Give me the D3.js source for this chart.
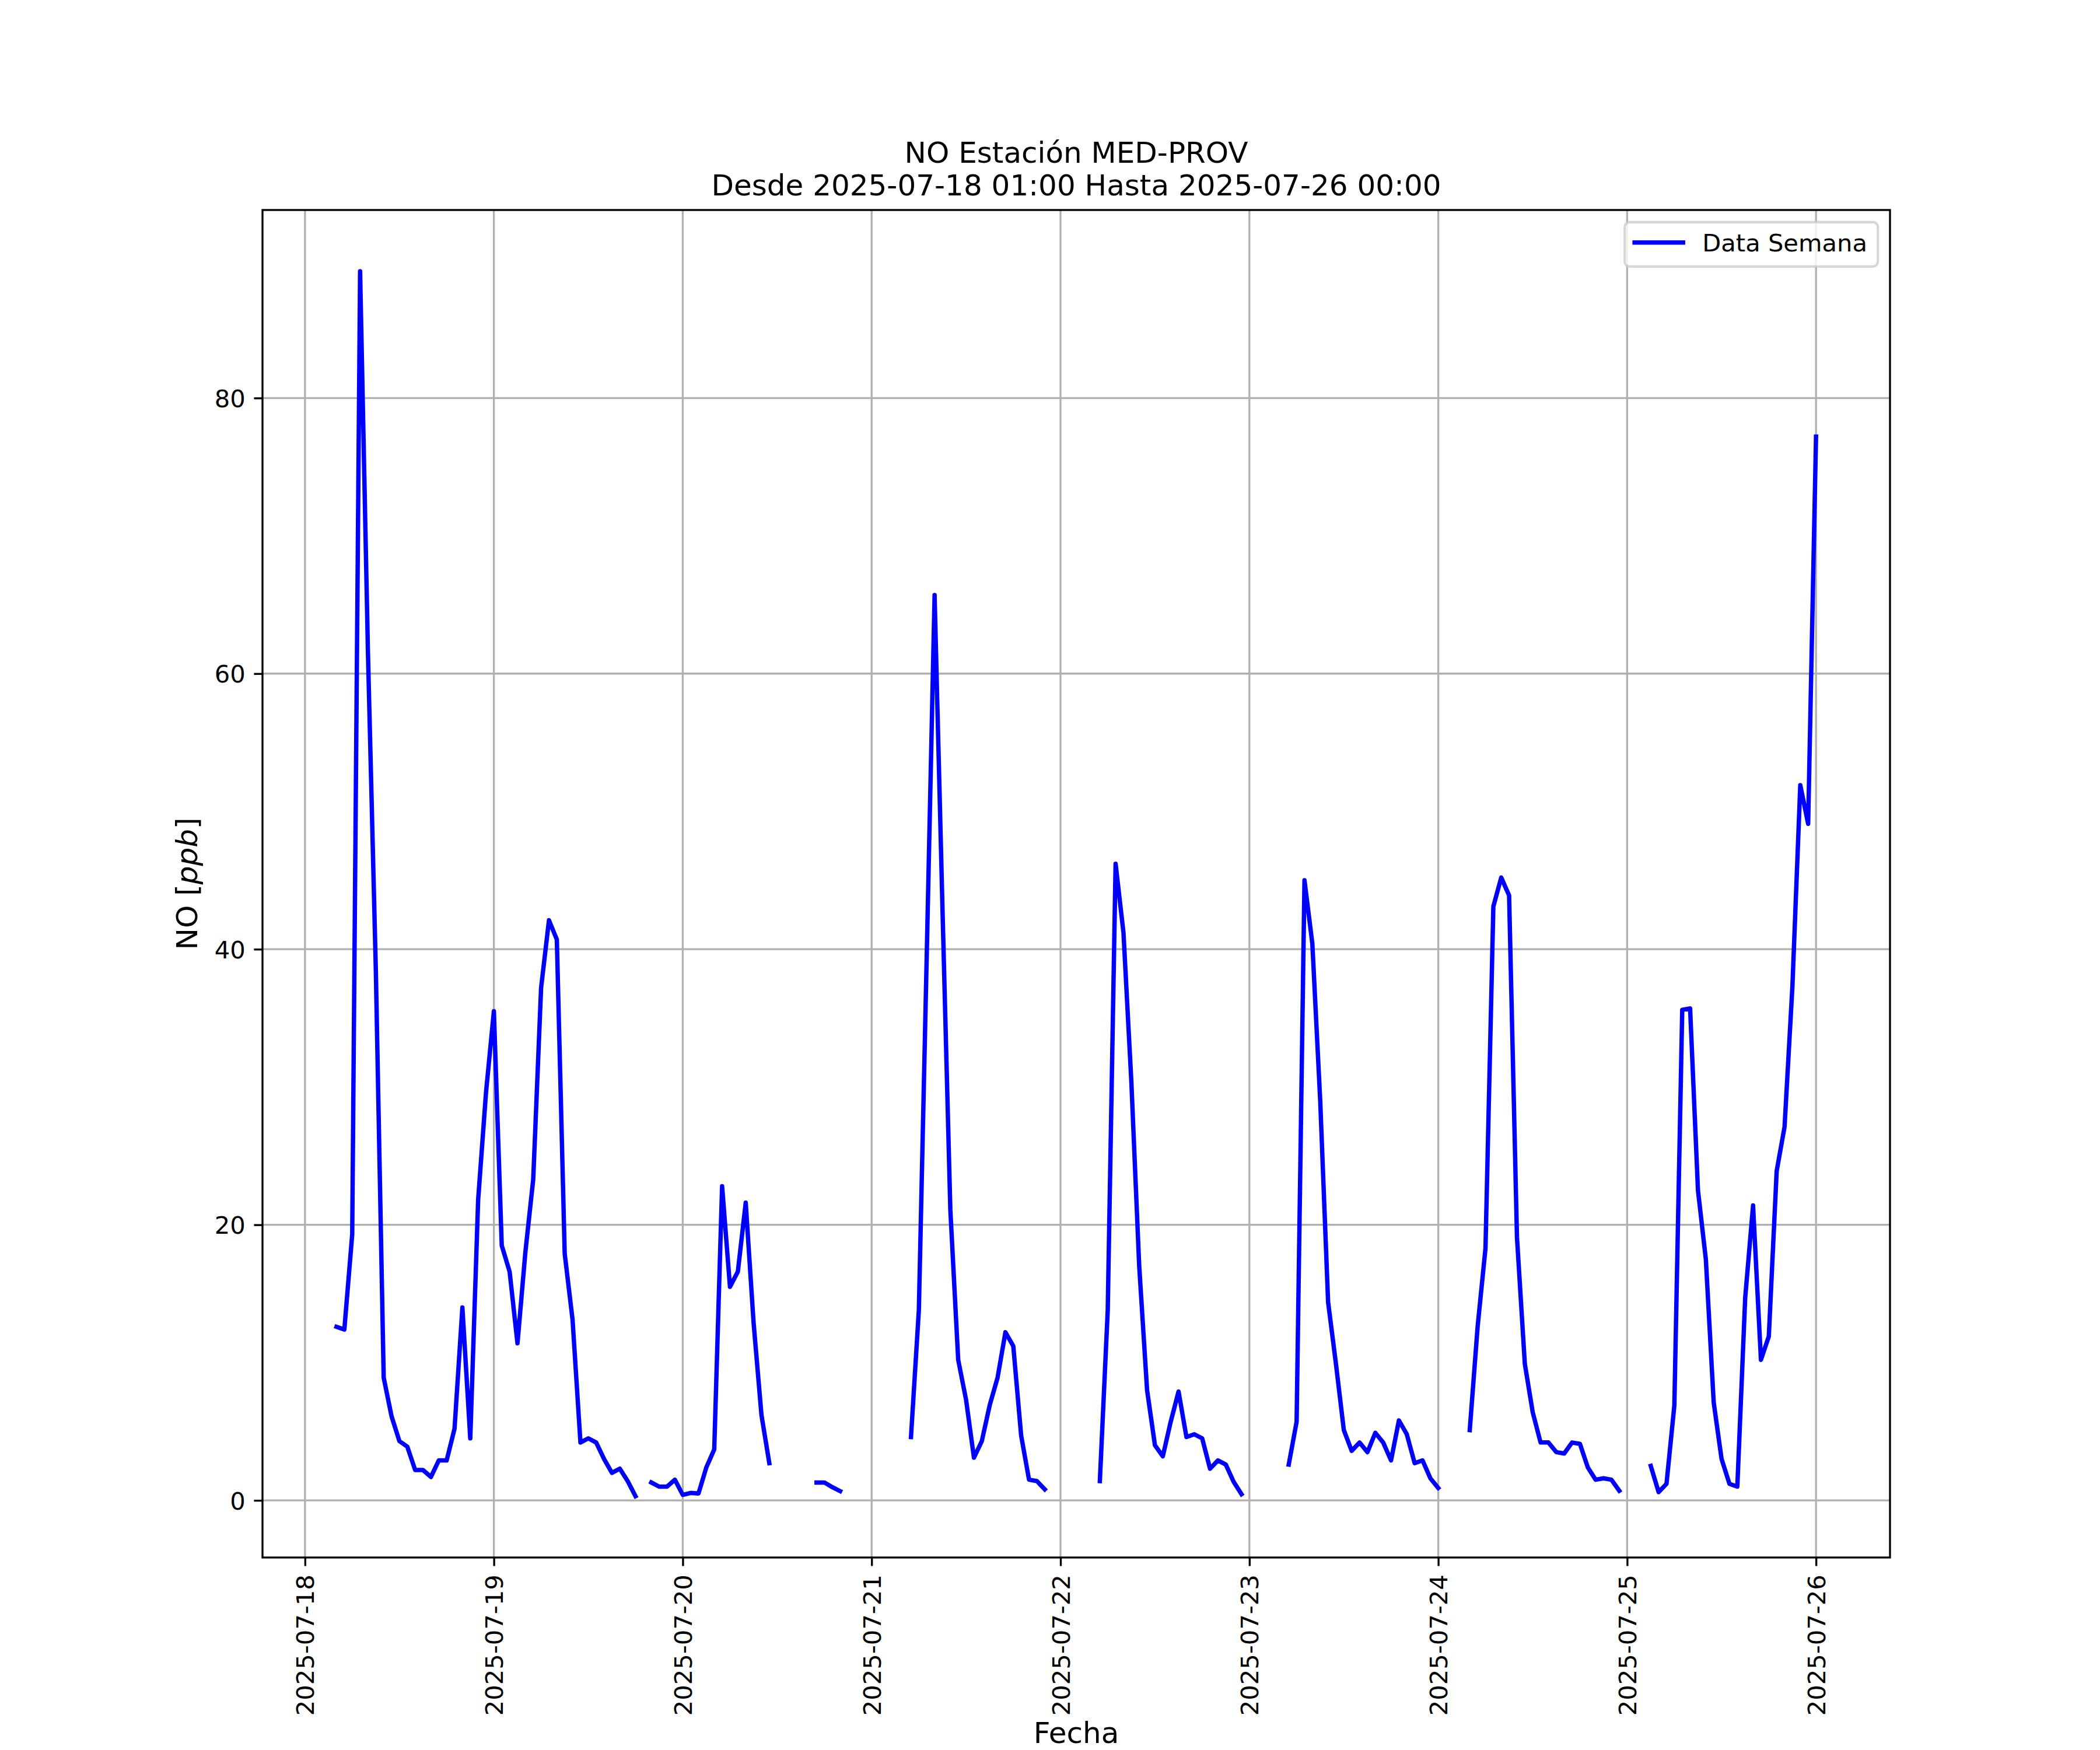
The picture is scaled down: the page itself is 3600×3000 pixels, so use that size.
<!DOCTYPE html>
<html>
<head>
<meta charset="utf-8">
<script src="https://cdn.jsdelivr.net/npm/d3@7"></script>
<style>
  body { margin: 0; background: #fff; }
  svg { display: block; font-family: "DejaVu Sans", sans-serif; }
</style>
</head>
<body>
<svg width="3600" height="3000"></svg>
<script>
/* ==================== DATA ==================== */
// hourly NO values [ppb], each day from 01:00 to next day 00:00 (null = no data)
var no18 = [null, null, null, 12.6, 12.4, 19.3, 89.2, 61.5, 38.5, 8.9, 6.1, 4.3, 3.9, 2.2, 2.2, 1.7, 2.9, 2.9, 5.2, 14.0, 4.5, 21.8, 29.6, 35.5];
var no19 = [18.5, 16.6, 11.4, 18.0, 23.3, 37.2, 42.1, 40.7, 17.9, 13.1, 4.2, 4.5, 4.2, 3.0, 2.0, 2.3, 1.4, 0.3, null, 1.3, 1.0, 1.0, 1.5, 0.4];
var no20 = [0.54, 0.5, 2.4, 3.7, 22.8, 15.5, 16.6, 21.6, 12.9, 6.2, 2.7, null, null, null, null, null, 1.3, 1.3, 0.96, 0.67, null, null, null, null];
var no21 = [null, null, null, null, 4.6, 13.8, 39.5, 65.7, 43.0, 21.1, 10.2, 7.3, 3.1, 4.3, 6.9, 8.9, 12.2, 11.2, 4.7, 1.5, 1.4, 0.8, null, null];
var no22 = [null, null, null, null, 1.4, 13.8, 46.2, 41.2, 30.4, 17.0, 8.0, 4.0, 3.2, 5.7, 7.9, 4.6, 4.8, 4.5, 2.3, 2.9, 2.6, 1.35, 0.45, null];
var no23 = [null, null, null, null, 2.6, 5.7, 45.0, 40.4, 29.0, 14.4, 9.9, 5.1, 3.6, 4.2, 3.5, 4.9, 4.2, 2.9, 5.8, 4.8, 2.7, 2.9, 1.6, 0.9];
var no24 = [null, null, null, 5.1, 12.6, 18.3, 43.1, 45.2, 43.9, 19.1, 9.9, 6.4, 4.2, 4.2, 3.5, 3.4, 4.2, 4.1, 2.4, 1.5, 1.6, 1.5, 0.7, null];
var no25 = [null, null, 2.5, 0.6, 1.2, 6.9, 35.6, 35.7, 22.5, 17.5, 7.1, 3.0, 1.2, 1.0, 14.7, 21.4, 10.2, 11.9, 23.9, 27.1, 37.3, 51.9, 49.1, 77.2];

var xTickLabels = ["2025-07-18", "2025-07-19", "2025-07-20", "2025-07-21", "2025-07-22",
                   "2025-07-23", "2025-07-24", "2025-07-25", "2025-07-26"];
var yTicks = [0, 20, 40, 60, 80];

var titleLines = ["NO Estación MED-PROV", "Desde 2025-07-18 01:00 Hasta 2025-07-26 00:00"];
var xLabel = "Fecha";
var legendLabel = "Data Semana";

/* ==================== SETUP ==================== */
var svg = d3.select("svg"),
    margin = { top: 360, right: 360, bottom: 330, left: 450 },
    width = +svg.attr("width") - margin.left - margin.right,
    height = +svg.attr("height") - margin.top - margin.bottom,
    g = svg.append("g").attr("transform", "translate(" + margin.left + "," + margin.top + ")");

var pt = 300 / 72; // points to pixels at 300 dpi
var fontTick = 10 * pt, fontLabel = 12 * pt;
var lineW = 7.5;

svg.insert("rect", ":first-child").attr("width", 3600).attr("height", 3000).attr("fill", "#fff");

// build hourly series starting 2025-07-18 01:00
var start = Date.UTC(2025, 6, 18, 1);
var series = [];
[no18, no19, no20, no21, no22, no23, no24, no25].forEach(function(day) {
    day.forEach(function(v) {
        series.push({ t: new Date(start + series.length * 3600e3), v: v });
    });
});

var finite = series.filter(function(d) { return d.v != null; });

// 5% margins like matplotlib
var tExt = d3.extent(finite, function(d) { return d.t; });
var tPad = (tExt[1] - tExt[0]) * 0.05;
var x = d3.scaleUtc()
    .domain([new Date(+tExt[0] - tPad), new Date(+tExt[1] + tPad)])
    .range([0, width]);

var vExt = d3.extent(finite, function(d) { return d.v; });
var vPad = (vExt[1] - vExt[0]) * 0.05;
var y = d3.scaleLinear()
    .domain([vExt[0] - vPad, vExt[1] + vPad])
    .range([height, 0]);

var xTicks = xTickLabels.map(function(s) { return d3.utcParse("%Y-%m-%d")(s); });

/* ==================== GRID ==================== */
var grid = g.append("g").attr("stroke", "#b0b0b0").attr("stroke-width", 0.8 * pt);
grid.selectAll(".gx").data(xTicks).enter().append("line")
    .attr("x1", function(d) { return x(d); }).attr("x2", function(d) { return x(d); })
    .attr("y1", 0).attr("y2", height);
grid.selectAll(".gy").data(yTicks).enter().append("line")
    .attr("y1", function(d) { return y(d); }).attr("y2", function(d) { return y(d); })
    .attr("x1", 0).attr("x2", width);

/* ==================== LINE ==================== */
var line = d3.line()
    .defined(function(d) { return d.v != null; })
    .x(function(d) { return x(d.t); })
    .y(function(d) { return y(d.v); });

g.append("path")
    .datum(series)
    .attr("d", line)
    .attr("fill", "none")
    .attr("stroke", "#0000ff")
    .attr("stroke-width", lineW)
    .attr("stroke-linejoin", "round")
    .attr("stroke-linecap", "square");

/* ==================== SPINES + AXES ==================== */
g.append("rect")
    .attr("width", width).attr("height", height)
    .attr("fill", "none").attr("stroke", "#000").attr("stroke-width", 0.8 * pt);

var tickLen = 3.5 * pt, tickPad = 3.5 * pt;

var xAxis = g.append("g")
    .attr("transform", "translate(0," + height + ")")
    .call(d3.axisBottom(x).tickValues(xTicks).tickFormat(d3.utcFormat("%Y-%m-%d"))
        .tickSize(tickLen).tickPadding(tickPad));

xAxis.selectAll("text")
    .attr("transform", "rotate(-90)")
    .attr("text-anchor", "end")
    .attr("x", -(tickLen + tickPad))
    .attr("y", 0)
    .attr("dy", "0.36em");

var yAxis = g.append("g")
    .call(d3.axisLeft(y).tickValues(yTicks).tickSize(tickLen).tickPadding(tickPad));

yAxis.selectAll("text").attr("dy", "0.36em");

[xAxis, yAxis].forEach(function(ax) {
    ax.select(".domain").remove();
    ax.attr("font-size", fontTick).attr("font-family", "DejaVu Sans");
    ax.selectAll("line").attr("stroke", "#000").attr("stroke-width", 0.8 * pt);
    ax.selectAll("text").attr("fill", "#000");
});

/* ==================== LABELS ==================== */
svg.append("text")
    .attr("x", margin.left + width / 2).attr("y", 2988)
    .attr("text-anchor", "middle").attr("font-size", fontLabel)
    .text(xLabel);

var yl = svg.append("text")
    .attr("transform", "translate(338," + (margin.top + height / 2) + ") rotate(-90)")
    .attr("text-anchor", "middle").attr("font-size", fontLabel);
yl.append("tspan").text("NO [");
yl.append("tspan").attr("font-style", "italic").text("ppb");
yl.append("tspan").text("]");

svg.append("g").selectAll("text").data(titleLines).enter().append("text")
    .attr("x", margin.left + width / 2)
    .attr("y", function(d, i) { return 279 + i * 56; })
    .attr("text-anchor", "middle").attr("font-size", fontLabel)
    .text(function(d) { return d; });

/* ==================== LEGEND ==================== */
var lg = g.append("g").attr("transform", "translate(" + (width - 20.8 - 434) + ",20.8)");
lg.append("rect")
    .attr("width", 434).attr("height", 76).attr("rx", 8.3)
    .attr("fill", "#fff").attr("fill-opacity", 0.8)
    .attr("stroke", "#cccccc").attr("stroke-opacity", 0.8).attr("stroke-width", 1.0 * pt);
lg.append("line")
    .attr("x1", 17).attr("x2", 100).attr("y1", 35).attr("y2", 35)
    .attr("stroke", "#0000ff").attr("stroke-width", lineW).attr("stroke-linecap", "square");
lg.append("text")
    .attr("x", 133).attr("y", 50).attr("font-size", fontTick)
    .text(legendLabel);
</script>
</body>
</html>
